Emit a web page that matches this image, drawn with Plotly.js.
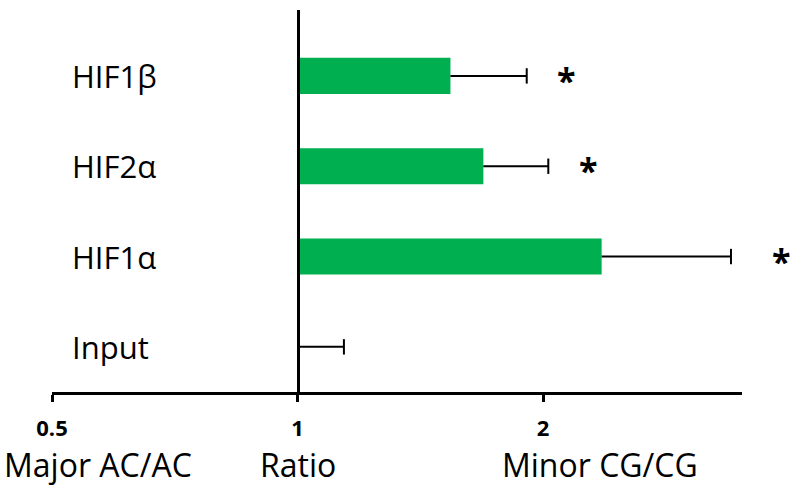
<!DOCTYPE html>
<html>
<head>
<meta charset="utf-8">
<script src="https://cdn.plot.ly/plotly-3.0.1.min.js"></script>
<style>
  html, body { margin: 0; padding: 0; background: #fff; }
  #chart { width: 798px; height: 498px; }
</style>
</head>
<body>
<div id="chart"></div>
<script>
// Fold-change ratio (log scale) per ChIP target, bottom to top
const categories = ['Input', 'HIF1\u03b1', 'HIF2\u03b1', 'HIF1\u03b2'];
const ratio      = [1.00, 2.36, 1.69, 1.54];
const ratioSem   = [0.14, 1.04, 0.34, 0.37];
const significant = [false, true, true, true];

const tickValues = [0.5, 1, 2];
const tickLabels = ['0.5', '1', '2'];
const sideLabels = ['Major AC/AC', 'Ratio', 'Minor CG/CG'];
const sideLabelAt = [0.57, 1, 2.35];   // ratio value under which each caption is centred

const xMin = 0.5, xMaxLog = 0.545;
const xMinLog = Math.log10(xMin);
const baseline = 1;

const FONT = 'Open Sans, Lato, sans-serif';
const GREEN = '#00b050';

// bars grow from the ratio = 1 baseline
const bars = {
  type: 'bar',
  orientation: 'h',
  y: categories,
  x: ratio.map(v => v - baseline),
  base: categories.map(() => baseline),
  width: 0.4,
  marker: { color: GREEN, line: { width: 0 } },
  hoverinfo: 'skip'
};

// one-sided (upper) error whiskers
const whiskX = [], whiskY = [];
categories.forEach((c, i) => {
  whiskX.push(ratio[i], ratio[i] + ratioSem[i], null);
  whiskY.push(c, c, null);
});
const whiskers = {
  type: 'scatter', mode: 'lines',
  x: whiskX, y: whiskY,
  line: { color: '#000', width: 2 },
  hoverinfo: 'skip', cliponaxis: false
};
const caps = {
  type: 'scatter', mode: 'markers',
  x: ratio.map((v, i) => v + ratioSem[i]), y: categories,
  marker: { symbol: 'line-ns', size: 11, line: { color: '#000', width: 2 } },
  hoverinfo: 'skip', cliponaxis: false
};

const annotations = [];

// category names, left aligned
categories.forEach(c => {
  annotations.push({
    xref: 'paper', yref: 'y', x: 0.026, y: c,
    xanchor: 'left', yanchor: 'middle', showarrow: false,
    text: c, font: { family: FONT, size: 31, color: '#000' }
  });
});

// significance marks beyond the whiskers
const starShift = [0, 51, 40, 40];
categories.forEach((c, i) => {
  if (!significant[i]) return;
  annotations.push({
    xref: 'x', yref: 'y', x: Math.log10(ratio[i] + ratioSem[i]), y: c,
    xanchor: 'center', yanchor: 'middle', xshift: starShift[i], yshift: -4,
    showarrow: false, text: '<b>*</b>',
    font: { family: FONT, size: 34, color: '#000' }
  });
});

// captions under the axis
sideLabels.forEach((t, i) => {
  annotations.push({
    xref: 'x', yref: 'paper', x: Math.log10(sideLabelAt[i]), y: 0,
    xanchor: 'center', yanchor: 'middle', yshift: -72,
    showarrow: false, text: t,
    font: { family: FONT, size: 32, color: '#000' }
  });
});

const layout = {
  width: 798, height: 498,
  margin: { l: 52, r: 56, t: 10, b: 106 },
  paper_bgcolor: '#fff', plot_bgcolor: '#fff',
  showlegend: false,
  xaxis: {
    type: 'log',
    range: [xMinLog, xMaxLog],
    tickvals: tickValues, ticktext: tickLabels,
    tickfont: { family: FONT, size: 22, color: '#000', weight: 'bold' },
    ticks: 'outside', ticklen: 7, tickwidth: 3, tickcolor: '#000',
    ticklabelstandoff: 8,
    showline: true, linewidth: 3, linecolor: '#000',
    showgrid: false, zeroline: false, fixedrange: true
  },
  yaxis: {
    type: 'category',
    categoryorder: 'array', categoryarray: categories,
    range: [-0.5, 3.73],
    anchor: 'free',
    position: (Math.log10(baseline) - xMinLog) / (xMaxLog - xMinLog),
    showline: true, linewidth: 3, linecolor: '#000',
    showticklabels: false, ticks: '',
    showgrid: false, zeroline: false, fixedrange: true
  },
  annotations: annotations
};

Plotly.newPlot('chart', [bars, whiskers, caps], layout, { displayModeBar: false, staticPlot: true });
</script>
</body>
</html>
